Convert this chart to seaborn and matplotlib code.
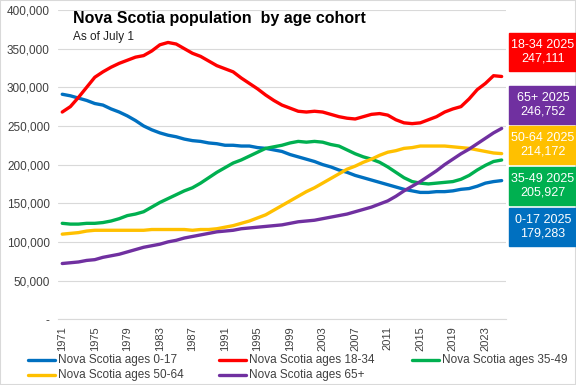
import numpy as np
import pandas as pd
import seaborn as sns
import matplotlib.pyplot as plt
from matplotlib.patches import Rectangle
from matplotlib.lines import Line2D
from matplotlib.ticker import FuncFormatter

years = list(range(1971, 2026))

ages_0_17 = [291, 289, 286, 283, 279, 277, 272, 268, 263, 257, 250, 245, 241, 238, 236, 233, 231, 230, 228, 227,
             225, 225, 224, 224, 222, 221, 219, 217, 213, 210, 207, 204, 200, 197, 193, 190, 186, 183, 180, 177,
             174, 171, 168, 166, 164, 164, 165, 165, 166, 168, 169, 172, 176, 178, 179.3]
ages_18_34 = [268, 275, 287, 300, 313, 320, 326, 331, 335, 339, 341, 347, 355, 358, 356, 350, 344, 340, 334, 328,
              324, 320, 312, 305, 298, 290, 283, 277, 273, 269, 268, 269, 268, 265, 262, 260, 259, 262, 265, 266,
              264, 258, 254, 253, 254, 258, 262, 268, 272, 275, 285, 297, 305, 315, 314]
ages_35_49 = [124, 123, 123, 124, 124, 125, 127, 130, 134, 136, 139, 145, 151, 156, 161, 166, 170, 176, 183, 190,
              196, 202, 206, 211, 216, 221, 223, 225, 228, 230, 229, 230, 229, 226, 224, 219, 214, 210, 207, 203,
              197, 190, 183, 178, 176, 175, 176, 177, 178, 181, 186, 193, 199, 204, 205.9]
ages_50_64 = [110, 111, 112, 114, 115, 115, 115, 115, 115, 115, 115, 116, 116, 116, 116, 116, 115, 116, 116, 117,
              119, 121, 124, 127, 131, 135, 141, 147, 153, 159, 165, 170, 176, 182, 188, 194, 198, 203, 207, 212,
              216, 218, 221, 222, 224, 224, 224, 224, 223, 222, 221, 219, 217, 215, 214.2]
ages_65 = [72, 73, 74, 76, 77, 80, 82, 84, 87, 90, 93, 95, 97, 100, 102, 105, 107, 109, 111, 113,
           114, 115, 117, 118, 119, 120, 121, 122, 124, 126, 127, 128, 130, 132, 134, 136, 139, 142, 145, 149,
           153, 159, 166, 172, 178, 185, 192, 200, 207, 214, 220, 227, 234, 241, 246.8]

labels = ["Nova Scotia ages 0-17", "Nova Scotia ages 18-34", "Nova Scotia ages 35-49",
          "Nova Scotia ages 50-64", "Nova Scotia ages 65+"]
colors = ["#0070C0", "#FF0000", "#00B050", "#FFC000", "#7030A0"]

box_lines = ["18-34 2025\n247,111", "65+ 2025\n246,752", "50-64 2025\n214,172",
             "35-49 2025\n205,927", "0-17 2025\n179,283"]
box_colors = ["#FF0000", "#7030A0", "#FFC000", "#00B050", "#0070C0"]

frames = []
for lab, vals in zip(labels, [ages_0_17, ages_18_34, ages_35_49, ages_50_64, ages_65]):
    frames.append(pd.DataFrame({"year": years, "pop": np.array(vals) * 1000, "series": lab}))
df = pd.concat(frames)

sns.set_style("white")
plt.rcParams['font.family'] = ['Liberation Sans Narrow', 'Liberation Sans', 'DejaVu Sans']

fig = plt.figure(figsize=(5.76, 3.85), dpi=100)
ax = fig.add_axes([0.101, 0.171, 0.777, 0.803])

sns.lineplot(data=df, x="year", y="pop", hue="series", palette=colors, linewidth=2.4,
             legend=False, ax=ax)

ax.set_xlim(1970.5, 2025.5)
ax.set_ylim(0, 400000)
ax.set_yticks(range(0, 400001, 50000))
ax.yaxis.set_major_formatter(FuncFormatter(lambda v, p: "-" if v == 0 else f"{int(v):,}"))
ax.set_xticks(range(1971, 2026, 4))
ax.tick_params(axis="x", rotation=90, labelsize=8, colors="#404040", length=0, pad=5)
ax.tick_params(axis="y", labelsize=8.5, colors="#404040", length=0, pad=6)
ax.grid(axis="y", color="#d9d9d9", linewidth=0.8)
ax.set_xlabel("")
ax.set_ylabel("")
for s in ["top", "right", "left"]:
    ax.spines[s].set_visible(False)
ax.spines["bottom"].set_color("#d9d9d9")

fig.text(0.127, 0.953, "Nova Scotia population  by age cohort", fontsize=11.5, fontweight="bold",
         va="center", ha="left", color="black")
fig.text(0.127, 0.903, "As of July 1", fontsize=8.5, va="center", ha="left", color="#202020")

# value boxes on the right
box_tops = [33, 86, 126, 167, 208]
for top, txt, c in zip(box_tops, box_lines, box_colors):
    h = 38
    fig.patches.append(Rectangle((509 / 576, 1 - (top + h) / 385), 67 / 576, h / 385,
                                 transform=fig.transFigure, color=c, zorder=3))
    fig.text(543 / 576, 1 - (top + h / 2) / 385, txt, ha="center", va="center", color="white",
             fontsize=9, linespacing=1.15, zorder=4)

# legend, drawn row-wise like the original
leg_x = [28, 219, 412]
leg_y = [360, 375]
for i, (lab, c) in enumerate(zip(labels, colors)):
    r, col = divmod(i, 3)
    x0 = leg_x[col] / 576
    y0 = 1 - leg_y[r] / 385
    fig.lines.append(Line2D([x0, x0 + 27 / 576], [y0, y0], color=c, linewidth=2.4,
                            transform=fig.transFigure))
    fig.text(x0 + 30 / 576, y0, lab, fontsize=8.5, va="center", ha="left", color="#404040")

fig.patches.append(Rectangle((0, 0), 1, 1, transform=fig.transFigure, fill=False,
                             edgecolor="#d9d9d9", linewidth=1.5))

fig.savefig("out.png", dpi=100)
